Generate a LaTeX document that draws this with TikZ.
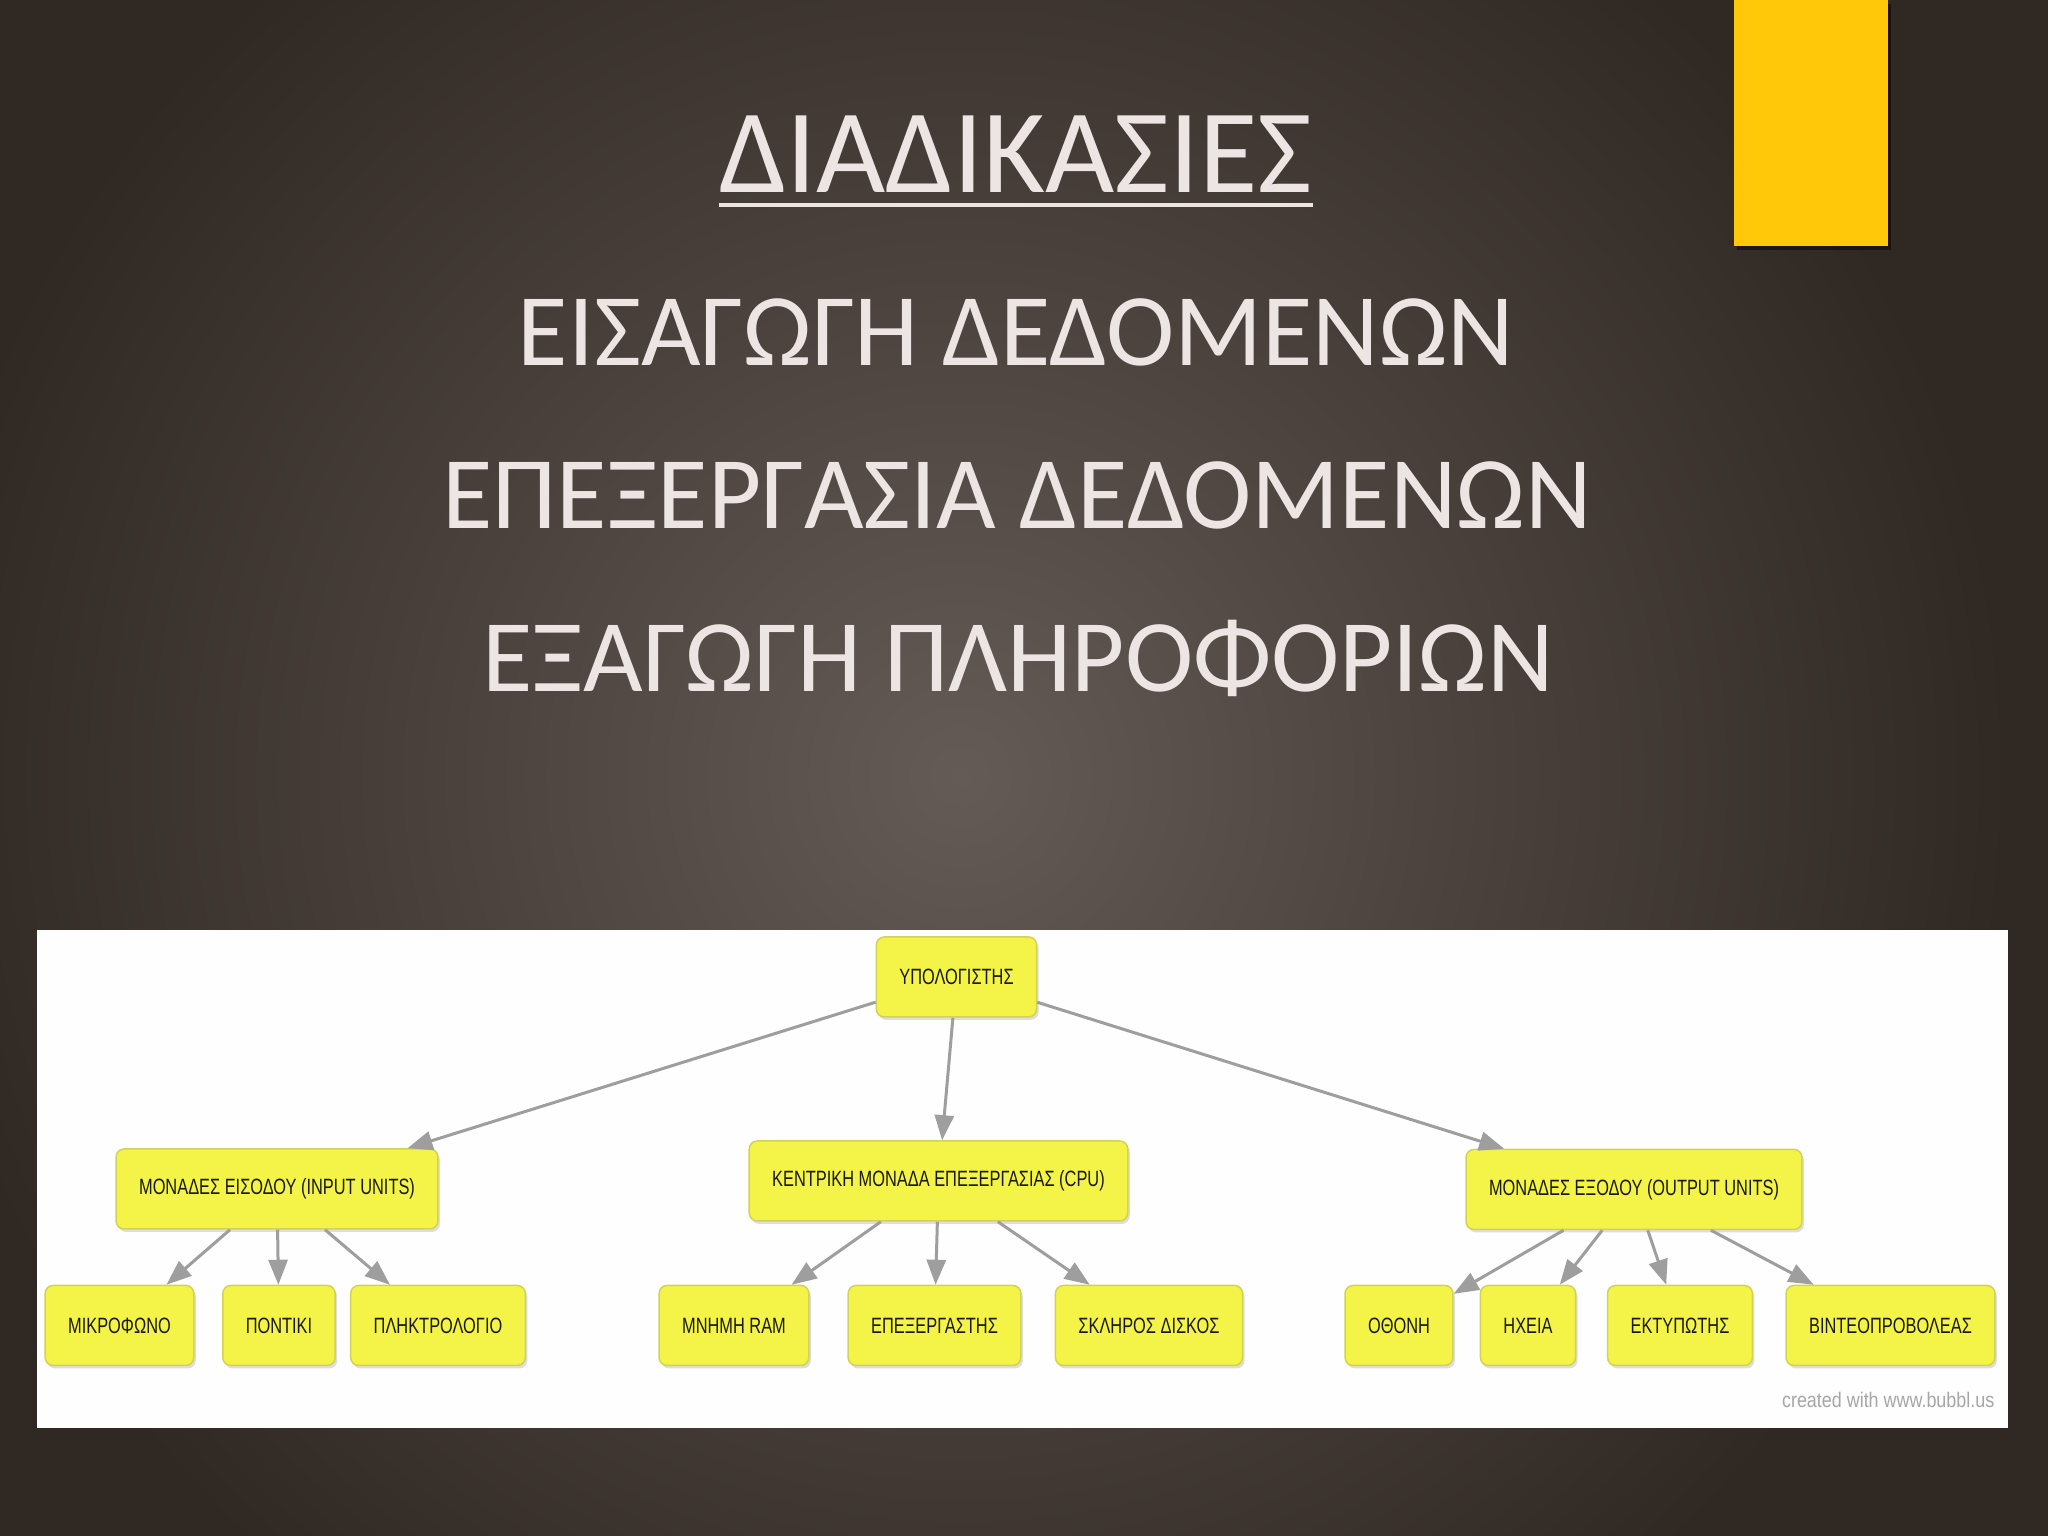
\documentclass[tikz,border=0pt]{standalone}
\usepackage{fontspec}
\setmainfont{Carlito}
\newfontfamily\bubfont[FakeStretch=0.74]{Liberation Sans}
\newfontfamily\credfont[FakeStretch=0.85]{Liberation Sans}
\usetikzlibrary{shapes,arrows.meta,positioning,shadows}

\definecolor{bgdark}{RGB}{48,40,35}
\definecolor{bglight}{RGB}{100,90,86}
\definecolor{titletext}{RGB}{236,229,227}
\definecolor{tabyellow}{RGB}{255,201,10}
\definecolor{bubfill}{RGB}{244,244,72}
\definecolor{bubedge}{RGB}{210,210,84}
\definecolor{linkgray}{RGB}{158,158,158}

\begin{document}
\begin{tikzpicture}[
    every node/.style={font=\bubfont\fontsize{6.3pt}{7.5pt}\selectfont},
    heading/.style={inner sep=0pt, text=titletext, anchor=base, font=\fontsize{29.3pt}{35pt}\selectfont},
    bubble/.style={rectangle, rounded corners=0.08cm, draw=bubedge, line width=0.015cm, fill=bubfill, text=black!90, inner xsep=0.23cm, minimum height=0.8cm, drop shadow={opacity=0.25, shadow xshift=0.02cm, shadow yshift=-0.03cm}},
    arrow/.style={draw=linkgray, line width=0.03cm, -{Triangle[length=0.25cm, width=0.19cm]}}
]
% FONDO
\useasboundingbox (0,0) rectangle (20.48,15.36);
\fill[bgdark] (0,0) rectangle (20.48,15.36);
\shade[inner color=bglight, outer color=bgdark] (9.6,7.6) circle (10.5);
\fill[tabyellow, drop shadow={fill=black, opacity=0.45, shadow xshift=0.03cm, shadow yshift=-0.04cm}] (17.34,12.90) rectangle (18.88,15.36);

% TITULOS
\node[heading, font=\fontsize{34pt}{40pt}\selectfont] (title) at (10.16,13.43) {ΔΙΑΔΙΚΑΣΙΕΣ};
\draw[titletext, line width=0.045cm] ([yshift=-0.12cm]title.base west) -- ([yshift=-0.12cm]title.base east);
\node[heading] (eisagogi) at (10.16,11.70) {ΕΙΣΑΓΩΓΗ ΔΕΔΟΜΕΝΩΝ};
\node[heading] (epexergasia) at (10.17,10.07) {ΕΠΕΞΕΡΓΑΣΙΑ ΔΕΔΟΜΕΝΩΝ};
\node[heading] (exagogi) at (10.18,8.44) {ΕΞΑΓΩΓΗ ΠΛΗΡΟΦΟΡΙΩΝ};

% DIAGRAMA
\fill[white!99!gray] (0.37,1.08) rectangle (20.08,6.06);

\node[bubble] (pc) at (9.565,5.59) {ΥΠΟΛΟΓΙΣΤΗΣ};
\node[bubble] (inunits) at (2.77,3.47) {ΜΟΝΑΔΕΣ ΕΙΣΟΔΟΥ (INPUT UNITS)};
\node[bubble] (cpu) at (9.385,3.55) {ΚΕΝΤΡΙΚΗ ΜΟΝΑΔΑ ΕΠΕΞΕΡΓΑΣΙΑΣ (CPU)};
\node[bubble] (outunits) at (16.34,3.465) {ΜΟΝΑΔΕΣ ΕΞΟΔΟΥ (OUTPUT UNITS)};

\node[bubble] (mic) at (1.195,2.105) {ΜΙΚΡΟΦΩΝΟ};
\node[bubble] (mouse) at (2.79,2.105) {ΠΟΝΤΙΚΙ};
\node[bubble] (keyboard) at (4.38,2.105) {ΠΛΗΚΤΡΟΛΟΓΙΟ};
\node[bubble] (ram) at (7.34,2.105) {ΜΝΗΜΗ RAM};
\node[bubble] (processor) at (9.345,2.105) {ΕΠΕΞΕΡΓΑΣΤΗΣ};
\node[bubble] (disk) at (11.49,2.105) {ΣΚΛΗΡΟΣ ΔΙΣΚΟΣ};
\node[bubble] (screen) at (13.99,2.105) {ΟΘΟΝΗ};
\node[bubble] (speakers) at (15.28,2.105) {ΗΧΕΙΑ};
\node[bubble] (printer) at (16.80,2.105) {ΕΚΤΥΠΩΤΗΣ};
\node[bubble] (projector) at (18.905,2.105) {ΒΙΝΤΕΟΠΡΟΒΟΛΕΑΣ};

% CONEXIONES
\draw[arrow] (pc) -- (inunits);
\draw[arrow] (pc) -- (cpu);
\draw[arrow] (pc) -- (outunits);
\draw[arrow] (inunits) -- (mic);
\draw[arrow] (inunits) -- (mouse);
\draw[arrow] (inunits) -- (keyboard);
\draw[arrow] (cpu) -- (ram);
\draw[arrow] (cpu) -- (processor);
\draw[arrow] (cpu) -- (disk);
\draw[arrow] (outunits) -- (screen);
\draw[arrow] (outunits) -- (speakers);
\draw[arrow] (outunits) -- (printer);
\draw[arrow] (outunits) -- (projector);

\node[text=gray!70, inner sep=0pt, font=\credfont\fontsize{6pt}{7pt}\selectfont, anchor=base east] (credit) at (19.95,1.28) {created with www.bubbl.us};
\end{tikzpicture}
\end{document}
